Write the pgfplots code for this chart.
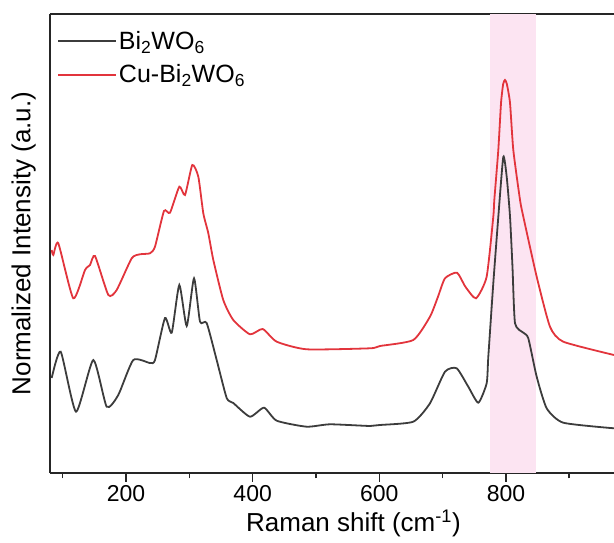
\documentclass[border=0pt]{standalone}
\usepackage{fontspec}
\setmainfont{Liberation Sans}
\usepackage{pgfplots}
\pgfplotsset{compat=1.18}
\definecolor{bwo}{RGB}{60,60,60}
\definecolor{cubwo}{RGB}{226,52,60}
\definecolor{band}{RGB}{252,228,242}
\begin{document}
\begin{tikzpicture}
\begin{axis}[
    scale only axis,
    width=564pt, height=459pt,
    xmin=80, xmax=970.6, ymin=0, ymax=459,
    axis x line=box, axis y line=left,
    axis line style={-, line width=1.8pt, black!85},
    xtick pos=bottom,
    xtick={200,400,600,800}, minor xtick={100,300,500,700,900},
    ytick=\empty,
    tick align=outside,
    major tick length=9pt, minor tick length=5.5pt,
    tick style={line width=1.6pt, black!85},
    /pgf/number format/assume math mode=true,
    xticklabel style={font=\fontsize{23}{27}\selectfont},
    xlabel={Raman shift (cm\textsuperscript{-1})},
    ylabel={Normalized Intensity (a.u.)},
    xlabel style={font=\fontsize{26}{30}\selectfont, inner sep=0pt,
        at={(axis description cs:0.538,0)}, anchor=base, yshift=-59pt},
    ylabel style={font=\fontsize{26}{30}\selectfont, inner sep=0pt,
        at={(axis description cs:-0.0248,0.5)}, anchor=south},
    legend style={at={(axis description cs:0,1)}, anchor=north west,
        xshift=7pt, yshift=-15pt, draw=none, fill=none, inner sep=0pt,
        font=\fontsize{25}{29}\selectfont, row sep=10pt},
    legend cell align=left,
    legend image code/.code={\draw[#1, line width=1.8pt] (0pt,0pt) -- (58pt,0pt);},
]
\addplot[fill=band, draw=none, forget plot] coordinates {(774,459) (847,459)} \closedcycle;

\addplot[color=bwo, line width=1.8pt, smooth, tension=0.35] coordinates {
(82.7,95) (96.9,121.3) (121.1,61.3) (148.4,113) (169.5,66.3) (187.8,78)
(211.5,113) (237.9,110) (245.8,113) (261.6,155) (272.2,140.3) (284.2,188)
(295.9,147) (307.4,194.7) (316.9,151.3) (327.4,150) (343.2,113) (359,75)
(369.4,70) (395.8,56.3) (417.9,65.3) (438,52.3) (485.3,46.3) (522.1,48.7)
(585.3,47) (601.1,48) (653.7,51.3) (680,69.7) (703.7,101.3) (722.2,104.7)
(740.5,86.3) (756.3,70.3) (769.5,89.7) (772.1,116) (780,189.7) (787.9,256)
(795.8,316) (801.2,296) (806.4,256.3) (810.3,206) (814.3,149.7) (827.4,140.3)
(835.3,134.7) (848.5,96.3) (864.3,64.7) (890.5,50.3) (970.6,44.7)
};
\addplot[color=cubwo, line width=1.8pt, smooth, tension=0.35] coordinates {
(82.7,223) (85.2,218) (93.1,229.7) (116.8,174.7) (135.3,203) (143.2,208)
(151.1,217) (172.1,178) (185.3,183) (209,214.7) (222.1,218.7) (237.9,219.7)
(245.8,226.3) (260,262) (269.5,260.3) (284.2,286.3) (293.2,278) (304.7,308)
(314.2,296.3) (322.1,259.7) (330,239.7) (337.9,213) (353.6,173) (369.4,153)
(395.8,138.7) (415.9,144) (438,131.3) (485.3,123.7) (585.3,124.7) (601.1,127)
(653.7,133) (680,156.3) (692.5,176) (703.7,194.7) (722.7,200.3) (735.9,186.3)
(752.7,174.7) (769.5,196.3) (780,256.3) (781.6,273) (787.9,323) (792.2,370)
(795.6,389) (798.4,393) (801.4,389) (806.4,370) (811.6,323) (822.2,273)
(827.4,256.3) (848.5,196.3) (869.5,146.3) (890.5,131.3) (970.6,118)
};
\legend{Bi\textsubscript{2}WO\textsubscript{6}, Cu-Bi\textsubscript{2}WO\textsubscript{6}}
\end{axis}
\pgfresetboundingbox
\path (current axis.south west) ++(-50pt,-70pt) rectangle ([yshift=14pt]current axis.north east);
\end{tikzpicture}
\end{document}
